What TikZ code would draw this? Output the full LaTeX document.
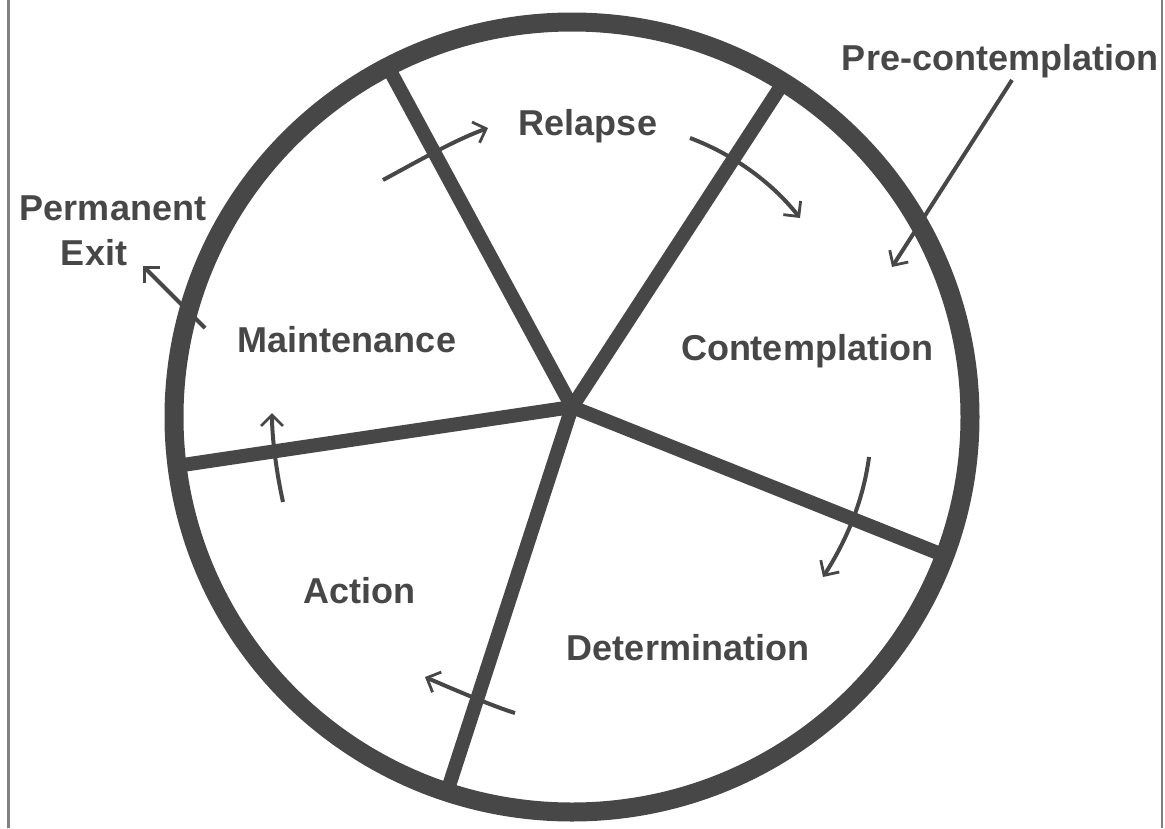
\documentclass[tikz,border=0pt]{standalone}
\usepackage{fontspec}
\setmainfont{Liberation Sans}
\usetikzlibrary{arrows.meta}
\definecolor{ink}{RGB}{71,71,71}
\definecolor{framegray}{RGB}{128,128,128}
\begin{document}
\begin{tikzpicture}[x=1pt,y=-1pt,
  ring/.style={draw=ink,line width=19pt},
  spoke/.style={draw=ink,line width=14pt,line cap=round},
  flow/.style={draw=ink,line width=4pt,-{Straight Barb[length=11pt,width=22pt,line width=2.8pt]}},
  lbl/.style={text=ink,font=\fontsize{36}{40}\selectfont\bfseries,inner sep=0pt,anchor=base}]
\useasboundingbox (0,0) rectangle (1165,828);
\fill[white] (0,0) rectangle (1165,828);
\draw[framegray,line width=2.5pt] (8.5,0) -- (8.5,828);
\draw[framegray,line width=2.5pt] (1162,0) -- (1162,828);

% hub and spoke ends
\coordinate (hub) at (572,407);
\coordinate (sTL) at (388,67);
\coordinate (sTR) at (783,83);
\coordinate (sR) at (943,555);
\coordinate (sB) at (447,792);
\coordinate (sL) at (176,466);

\draw[spoke] (hub) -- (sTL);
\draw[spoke] (hub) -- (sTR);
\draw[spoke] (hub) -- (sR);
\draw[spoke] (hub) -- (sB);
\draw[spoke] (hub) -- (sL);

\draw[ring] (572,417) ellipse [x radius=398, y radius=395];

% labels
\node[lbl] (relapse) at (588,135) {Relapse};
\node[lbl] (pre) at (1000,70) {Pre-contemplation};
\node[lbl] (perm) at (113,220) {Permanent};
\node[lbl] (exit) at (94,265) {Exit};
\node[lbl] (maint) at (347,352) {Maintenance};
\node[lbl] (contemp) at (807,360) {Contemplation};
\node[lbl] (determ) at (688,660) {Determination};
\node[lbl] (action) at (359,603) {Action};

% arrow end points
\coordinate (a1s) at (383,180);  \coordinate (a1e) at (488,128);
\coordinate (a2s) at (690,138);  \coordinate (a2e) at (800,218);
\coordinate (a3s) at (1012,80);  \coordinate (a3e) at (892,267);
\coordinate (a4s) at (869,457);  \coordinate (a4e) at (823,577);
\coordinate (a5s) at (515,713);  \coordinate (a5e) at (425,677);
\coordinate (a6s) at (283,502);  \coordinate (a6e) at (272,413);
\coordinate (a7s) at (205,328);  \coordinate (a7e) at (143,266);

\draw[flow] (a1s) .. controls (420,160) and (455,140) .. (a1e);
\draw[flow] (a2s) .. controls (730,153) and (770,180) .. (a2e);
\draw[flow] (a3s) -- (a3e);
\draw[flow] (a4s) .. controls (864,495) and (850,535) .. (a4e);
\draw[flow] (a5s) .. controls (495,707) and (455,690) .. (a5e);
\draw[flow] (a6s) .. controls (277,475) and (272,440) .. (a6e);
\draw[flow] (a7s) -- (a7e);
\end{tikzpicture}
\end{document}
